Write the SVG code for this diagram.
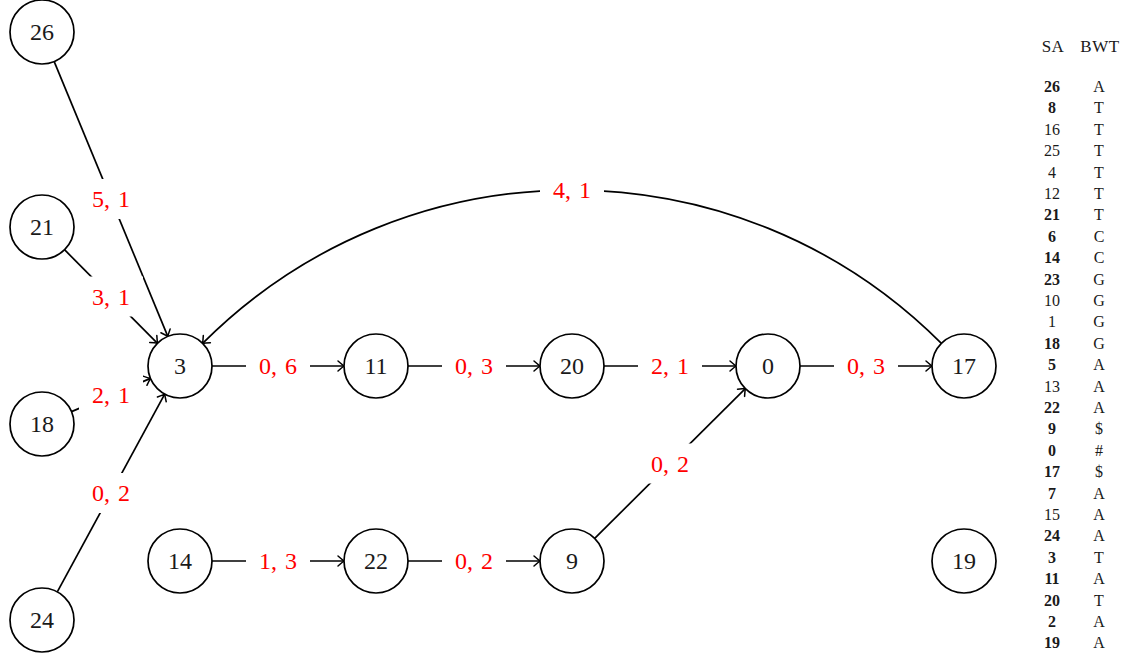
<svg xmlns="http://www.w3.org/2000/svg" width="1130" height="655" viewBox="0 0 1130 655">
<style>
.n circle{fill:#fff;stroke:#000;stroke-width:1.7}
.n text{font-family:"Liberation Serif",serif;font-size:24px;text-anchor:middle;fill:#1a1a1a}
.e{fill:none;stroke:#000;stroke-width:1.7;marker-end:url(#ah)}
.lb rect{fill:#fff}
.lb text{font-family:"Liberation Serif",serif;font-size:24px;text-anchor:middle;fill:#ff0000;word-spacing:2px}
.t text{font-family:"Liberation Serif",serif;font-size:16px;text-anchor:middle;fill:#1a1a1a}
.t .b{font-weight:bold}
.t .h{font-size:17px;letter-spacing:0.5px}
</style>
<defs>
<marker id="ah" markerUnits="userSpaceOnUse" markerWidth="14" markerHeight="14" viewBox="-8 -7 10 14" refX="0" refY="0" orient="auto">
<path d="M-6,-5 Q-2,-1.5 0,0 Q-2,1.5 -6,5" fill="none" stroke="#000" stroke-width="1.5" stroke-linecap="round"/>
</marker>
</defs>
<rect width="1130" height="655" fill="#fff"/>
<g id="connectors">
<line class="e" x1="54.2" y1="61.6" x2="167.8" y2="336.4"/>
<line class="e" x1="64.5" y1="249.7" x2="157.5" y2="343.3"/>
<line class="e" x1="71.5" y1="411.6" x2="150.5" y2="378.4"/>
<line class="e" x1="57.3" y1="591.9" x2="164.7" y2="394.1"/>
<line class="e" x1="212" y1="366" x2="344" y2="366"/>
<line class="e" x1="408" y1="366" x2="540" y2="366"/>
<line class="e" x1="604" y1="366" x2="736" y2="366"/>
<line class="e" x1="800" y1="366" x2="932" y2="366"/>
<line class="e" x1="212" y1="561" x2="344" y2="561"/>
<line class="e" x1="408" y1="561" x2="540" y2="561"/>
<line class="e" x1="594.7" y1="538.4" x2="745.3" y2="388.6"/>
<path class="e" d="M941.4,343.4 C736.9,138.9 407.1,138.9 202.6,343.4"/>
<g class="lb">
<rect x="79" y="179" width="64" height="40"/><text x="111" y="207">5, 1</text>
<rect x="79" y="276.5" width="64" height="40"/><text x="111" y="304.5">3, 1</text>
<rect x="79" y="375" width="64" height="40"/><text x="111" y="403">2, 1</text>
<rect x="79" y="473" width="64" height="40"/><text x="111" y="501">0, 2</text>
<rect x="246" y="346" width="64" height="40"/><text x="278" y="374">0, 6</text>
<rect x="442" y="346" width="64" height="40"/><text x="474" y="374">0, 3</text>
<rect x="638" y="346" width="64" height="40"/><text x="670" y="374">2, 1</text>
<rect x="834" y="346" width="64" height="40"/><text x="866" y="374">0, 3</text>
<rect x="246" y="541" width="64" height="40"/><text x="278" y="569">1, 3</text>
<rect x="442" y="541" width="64" height="40"/><text x="474" y="569">0, 2</text>
<rect x="638" y="443.5" width="64" height="40"/><text x="670" y="471.5">0, 2</text>
<rect x="540" y="170" width="64" height="40"/><text x="572" y="198">4, 1</text>
</g>
</g>
<g id="n26" class="n"><circle cx="42" cy="32" r="32"/><text x="42" y="40">26</text></g>
<g id="n21" class="n"><circle cx="42" cy="227" r="32"/><text x="42" y="235">21</text></g>
<g id="n18" class="n"><circle cx="42" cy="424" r="32"/><text x="42" y="432">18</text></g>
<g id="n24" class="n"><circle cx="42" cy="620" r="32"/><text x="42" y="628">24</text></g>
<g id="n3" class="n"><circle cx="180" cy="366" r="32"/><text x="180" y="374">3</text></g>
<g id="n11" class="n"><circle cx="376" cy="366" r="32"/><text x="376" y="374">11</text></g>
<g id="n20" class="n"><circle cx="572" cy="366" r="32"/><text x="572" y="374">20</text></g>
<g id="n0" class="n"><circle cx="768" cy="366" r="32"/><text x="768" y="374">0</text></g>
<g id="n17" class="n"><circle cx="964" cy="366" r="32"/><text x="964" y="374">17</text></g>
<g id="n14" class="n"><circle cx="180" cy="561" r="32"/><text x="180" y="569">14</text></g>
<g id="n22" class="n"><circle cx="376" cy="561" r="32"/><text x="376" y="569">22</text></g>
<g id="n9" class="n"><circle cx="572" cy="561" r="32"/><text x="572" y="569">9</text></g>
<g id="n19" class="n"><circle cx="964" cy="561" r="32"/><text x="964" y="569">19</text></g>
<g id="table" class="t">
<text class="h" x="1053" y="52">SA</text><text class="h" x="1100" y="52">BWT</text>
<text class="b" x="1052" y="92">26</text><text x="1099" y="92">A</text>
<text class="b" x="1052" y="113.4">8</text><text x="1099" y="113.4">T</text>
<text x="1052" y="134.8">16</text><text x="1099" y="134.8">T</text>
<text x="1052" y="156.2">25</text><text x="1099" y="156.2">T</text>
<text x="1052" y="177.6">4</text><text x="1099" y="177.6">T</text>
<text x="1052" y="199">12</text><text x="1099" y="199">T</text>
<text class="b" x="1052" y="220.4">21</text><text x="1099" y="220.4">T</text>
<text class="b" x="1052" y="241.8">6</text><text x="1099" y="241.8">C</text>
<text class="b" x="1052" y="263.2">14</text><text x="1099" y="263.2">C</text>
<text class="b" x="1052" y="284.6">23</text><text x="1099" y="284.6">G</text>
<text x="1052" y="306">10</text><text x="1099" y="306">G</text>
<text x="1052" y="327.4">1</text><text x="1099" y="327.4">G</text>
<text class="b" x="1052" y="348.8">18</text><text x="1099" y="348.8">G</text>
<text class="b" x="1052" y="370.2">5</text><text x="1099" y="370.2">A</text>
<text x="1052" y="391.6">13</text><text x="1099" y="391.6">A</text>
<text class="b" x="1052" y="413">22</text><text x="1099" y="413">A</text>
<text class="b" x="1052" y="434.4">9</text><text x="1099" y="434.4">$</text>
<text class="b" x="1052" y="455.8">0</text><text x="1099" y="455.8">#</text>
<text class="b" x="1052" y="477.2">17</text><text x="1099" y="477.2">$</text>
<text class="b" x="1052" y="498.6">7</text><text x="1099" y="498.6">A</text>
<text x="1052" y="520">15</text><text x="1099" y="520">A</text>
<text class="b" x="1052" y="541.4">24</text><text x="1099" y="541.4">A</text>
<text class="b" x="1052" y="562.8">3</text><text x="1099" y="562.8">T</text>
<text class="b" x="1052" y="584.2">11</text><text x="1099" y="584.2">A</text>
<text class="b" x="1052" y="605.6">20</text><text x="1099" y="605.6">T</text>
<text class="b" x="1052" y="627">2</text><text x="1099" y="627">A</text>
<text class="b" x="1052" y="648.4">19</text><text x="1099" y="648.4">A</text>
</g>
</svg>
